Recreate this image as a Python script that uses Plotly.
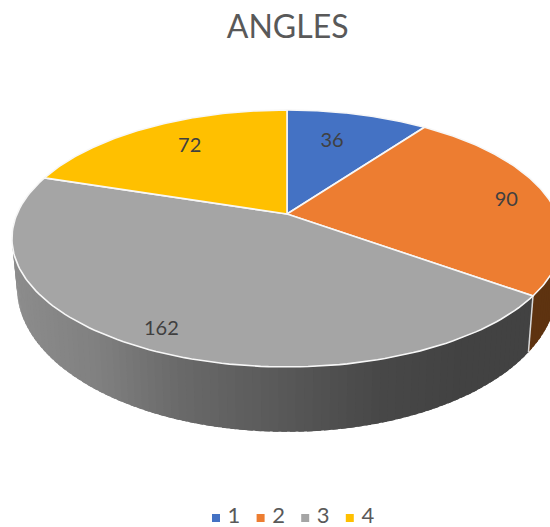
import numpy as np
import plotly.graph_objects as go

TITLE = "ANGLES"
CATEGORIES = ["1", "2", "3", "4"]
VALUES = [36, 90, 162, 72]
TOP_COLORS = ["#4472C4", "#ED7D31", "#A5A5A5", "#FFC000"]
LABEL_RADIUS = [0.70, 0.84, 0.88, 0.74]
LABEL_SHIFT_DEG = [-2.4, 0.6, -0.3, 3.0]
LABEL_DY = 2.0

# projection of the tilted disc on to the 550x527 canvas
K = 0.1906
TOP = dict(cx=287.0, cy=214.0, a=270.0, b=123.8)
BOTTOM = dict(cx=287.0, cy=260.5, a=265.0, b=138.7)
# shading of the side wall across the canvas
SHADE_X = [0, 20, 100, 180, 287, 380, 470, 550]
SHADE_GRAY = [140, 140, 128, 106, 88, 72, 66, 66]
ORANGE_WALL = "#5E3310"
# key row under the pie
KEY_X0, KEY_STEP, KEY_TEXT_GAP, KEY_Y = 216.0, 44.6, 18.0, 518.0


def project(theta_deg, r, disc):
    t = np.radians(theta_deg)
    X, Y = r * np.sin(t), r * np.cos(t)
    den = 1 + K * Y
    return disc["cx"] + disc["a"] * X / den, disc["cy"] - disc["b"] * Y / den


edges = np.concatenate([[0], np.cumsum(VALUES)]) * 360.0 / sum(VALUES)
fig = go.Figure()


def add_poly(x, y, color, line_color=None, width=0):
    fig.add_trace(go.Scatter(x=list(x), y=list(y), mode="lines", fill="toself",
                             fillcolor=color, showlegend=False, hoverinfo="skip",
                             line=dict(color=line_color or color, width=width)))


# side walls: visible rim runs from the orange slice through the grey one;
# each strip overlaps the next so no seams show, drawn so the overlap is hidden
wall_start, wall_end = 90.0, 270.0
step = 1.5
for a0 in np.arange(wall_start, wall_end, step):
    a1 = a0 + step
    a2 = min(a1 + 1.0, edges[2]) if a0 < edges[2] else a1 + 1.0
    xt, yt = project(np.array([a0, a2]), 1, TOP)
    xb, yb = project(np.array([a2, a0]), 1, BOTTOM)
    xm = (project(a0, 1, TOP)[0] + project(a1, 1, TOP)[0]
          + project(a0, 1, BOTTOM)[0] + project(a1, 1, BOTTOM)[0]) / 4
    if a0 < edges[2]:
        col = ORANGE_WALL
    else:
        g = int(np.interp(xm, SHADE_X, SHADE_GRAY))
        col = f"rgb({g},{g},{g})"
    add_poly(np.r_[xt, xb, xt[0]], np.r_[yt, yb, yt[0]], col)

# white seam on the wall where slices 2 and 3 meet
sx0, sy0 = project(edges[2], 1, TOP)
sx1, sy1 = project(edges[2], 1, BOTTOM)
fig.add_trace(go.Scatter(x=[sx0, sx1], y=[sy0, sy1], mode="lines", showlegend=False,
                         hoverinfo="skip", line=dict(color="#D9D9D9", width=1.5)))

# top face
for i, color in enumerate(TOP_COLORS):
    th = np.linspace(edges[i], edges[i + 1], 120)
    x, y = project(th, 1, TOP)
    cx, cy = project(0.0, 0.0, TOP)
    add_poly(np.r_[cx, x, cx], np.r_[cy, y, cy], color, "#F7F7F7", 1.6)

# value labels
mids = (edges[:-1] + edges[1:]) / 2 + np.array(LABEL_SHIFT_DEG)
lx, ly = project(mids, np.array(LABEL_RADIUS), TOP)
fig.add_trace(go.Scatter(x=lx, y=ly + LABEL_DY, mode="text", text=[str(v) for v in VALUES],
                         textposition="middle center", showlegend=False, hoverinfo="skip",
                         textfont=dict(family="Lato", size=20, color="#404040")))

# key entries
for i, (name, color) in enumerate(zip(CATEGORIES, TOP_COLORS)):
    kx = KEY_X0 + i * KEY_STEP
    fig.add_trace(go.Scatter(x=[kx], y=[KEY_Y], mode="markers", name=name,
                             showlegend=False, hoverinfo="skip",
                             marker=dict(symbol="square", size=8, color=color)))
    fig.add_trace(go.Scatter(x=[kx + KEY_TEXT_GAP], y=[KEY_Y - 1], mode="text", text=[name],
                             textposition="middle center", showlegend=False, hoverinfo="skip",
                             textfont=dict(family="Lato", size=22, color="#595959")))

fig.update_layout(
    width=550, height=527, autosize=False,
    margin=dict(l=0, r=0, t=0, b=0, autoexpand=False),
    paper_bgcolor="white", plot_bgcolor="white",
    xaxis=dict(range=[0, 550], visible=False, fixedrange=True),
    yaxis=dict(range=[527, 0], visible=False, fixedrange=True),
    title=dict(text=TITLE, x=0.523, xanchor="center", y=0.949, yanchor="middle",
               font=dict(family="Lato", size=32, color="#595959")),
    showlegend=False,
)
fig.write_html("out.html", config=dict(displayModeBar=False),
               post_script="document.body.style.margin='0';document.documentElement.style.overflow='hidden';")
